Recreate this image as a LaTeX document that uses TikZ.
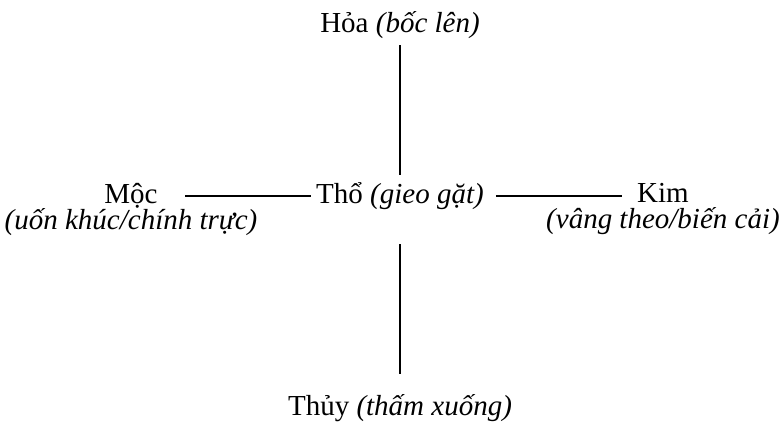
\documentclass[tikz,border=0pt]{standalone}
\usepackage{fontspec}
\setmainfont{Liberation Serif}
\begin{document}
\begin{tikzpicture}[x=1pt,y=-1pt,
  lbl/.style={inner sep=0pt,anchor=base,font=\fontsize{29}{34}\selectfont},
  pair/.style={inner sep=0pt,anchor=base,align=center,font=\fontsize{29}{26}\selectfont},
  conn/.style={line width=2.8pt,line cap=butt}]
\useasboundingbox (0,0) rectangle (781,421);
\node[lbl] (hoa) at (400,32) {Hỏa \textit{(bốc lên)}};
\node[lbl] (tho) at (400,203) {Thổ \textit{(gieo gặt)}};
\node[pair] (moc) at (131,229) {Mộc\\\textit{(uốn khúc/chính trực)}};
\node[pair] (kim) at (663,228) {Kim\\\textit{(vâng theo/biến cải)}};
\node[lbl] (thuy) at (400,415) {Thủy \textit{(thấm xuống)}};
\draw[conn] ([yshift=-13pt]hoa.base) -- ([yshift=28pt]tho.base);
\draw[conn] ([yshift=-41pt]tho.base) -- ([yshift=41pt]thuy.base);
\draw[conn] ([xshift=54pt,yshift=33pt]moc.base) -- ([xshift=-5pt,yshift=7pt]tho.base west);
\draw[conn] ([xshift=12pt,yshift=7pt]tho.base east) -- ([xshift=-41pt,yshift=32pt]kim.base);
\end{tikzpicture}
\end{document}
